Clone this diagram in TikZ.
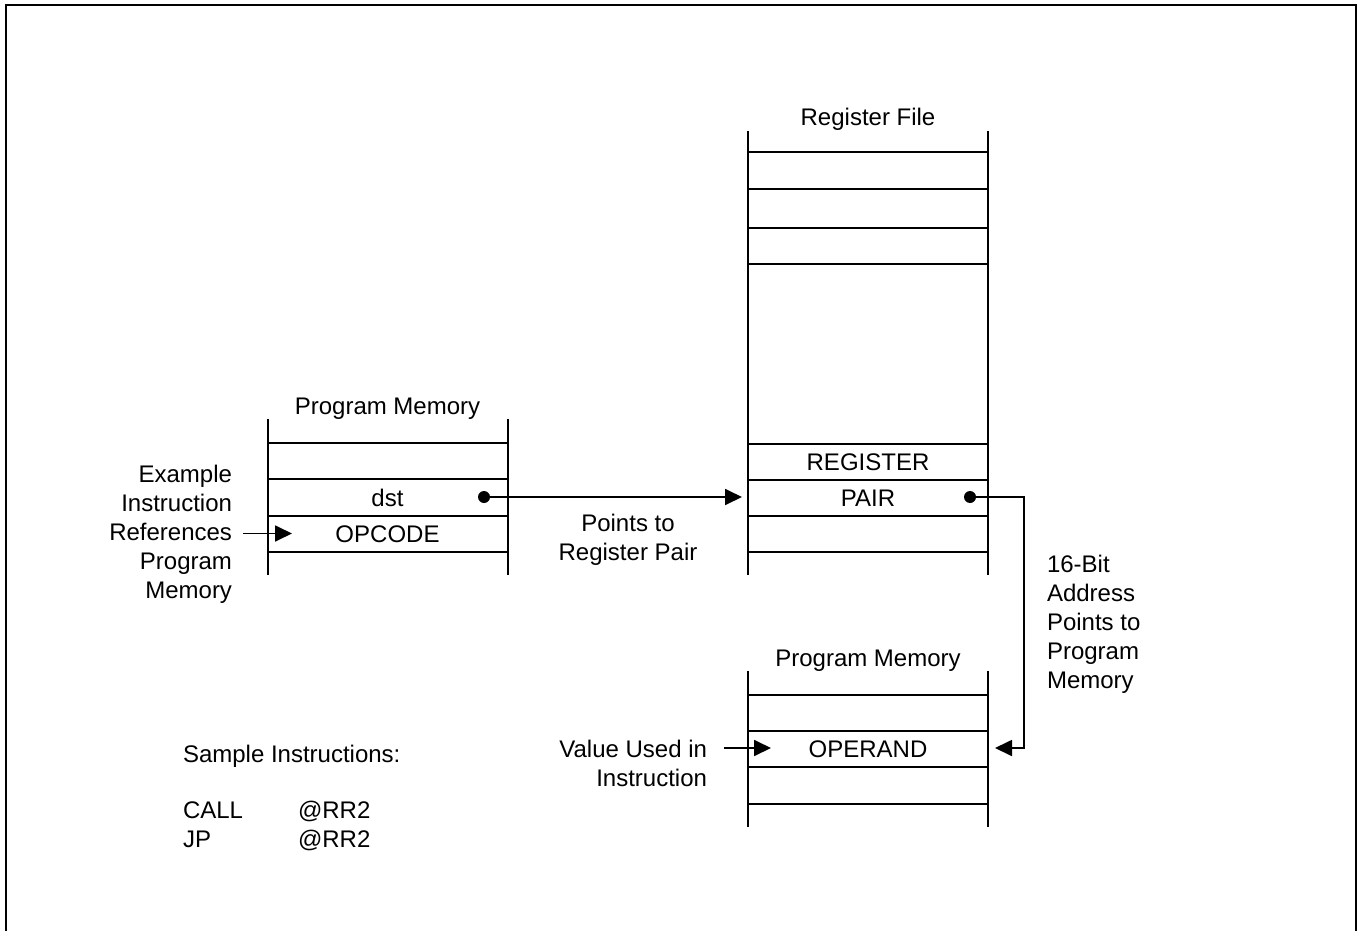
\documentclass[tikz,border=0pt]{standalone}
\usepackage{fontspec}
\setmainfont{Liberation Sans}
\usetikzlibrary{arrows.meta}
\begin{document}
\begin{tikzpicture}[x=1pt,y=-1pt,
  lbl/.style={font=\fontsize{24}{29}\selectfont, inner sep=0pt, outer sep=0pt},
  memline/.style={line width=2pt},
  conn/.style={line width=1.8pt},
  tipconn/.style={conn,-{Triangle[length=17pt,width=16pt]}},
  framel/.style={line width=2.8pt}]
\useasboundingbox (0,0) rectangle (1360,931);
% outer frame (open at bottom)
\draw[framel] (6,931) -- (6,5) -- (1356,5) -- (1356,931);

% left program memory
\draw[memline] (267.5,419) -- (267.5,575) (507.5,419) -- (507.5,575);
\foreach \yy in {443,479,516,551.5} \draw[memline] (267.5,\yy) -- (507.5,\yy);
\node[lbl,anchor=base] (pmtitle) at (387.5,414.5) {Program Memory};
\node[lbl,anchor=base] (dst) at (387.5,506.5) {dst};
\node[lbl,anchor=base] (opcode) at (387.5,542.5) {OPCODE};
\node[lbl,anchor=base east,align=right] (example) at (232,598)
  {Example\\Instruction\\References\\Program\\Memory};
\coordinate (exstart) at (243,533.5);
\coordinate (exend) at (292,533.5);
\draw[tipconn] (exstart) -- (exend);

% register file
\draw[memline] (748,131) -- (748,575) (987.5,131) -- (987.5,575);
\foreach \yy in {152,188.5,227.5,263.5,443.5,479.5,516,551.5} \draw[memline] (748,\yy) -- (987.5,\yy);
\node[lbl,anchor=base] (rftitle) at (868,125.5) {Register File};
\node[lbl,anchor=base] (register) at (868,470) {REGISTER};
\node[lbl,anchor=base] (pair) at (868,506.5) {PAIR};

% dst -> register pair
\coordinate (dstdot) at (484,497);
\coordinate (rfin) at (742,497);
\fill (dstdot) circle[radius=6pt];
\draw[tipconn] (dstdot) -- (rfin);
\node[lbl,anchor=base,align=center] (points) at (628,560) {Points to\\Register Pair};

% bottom program memory
\draw[memline] (748,670.5) -- (748,827) (987.5,670.5) -- (987.5,827);
\foreach \yy in {695,731,767,803.5} \draw[memline] (748,\yy) -- (987.5,\yy);
\node[lbl,anchor=base] (pm2title) at (868,666.5) {Program Memory};
\node[lbl,anchor=base] (operand) at (868,757.5) {OPERAND};
\node[lbl,anchor=base east,align=right] (value) at (707,786) {Value Used in\\Instruction};
\coordinate (vstart) at (724,748);
\coordinate (vend) at (771,748);
\draw[tipconn] (vstart) -- (vend);

% pair -> operand
\coordinate (pairdot) at (970,497);
\coordinate (corner1) at (1024,497);
\coordinate (corner2) at (1024,748);
\coordinate (opin) at (995,748);
\fill (pairdot) circle[radius=6pt];
\draw[tipconn] (pairdot) -- (corner1) -- (corner2) -- (opin);
\node[lbl,anchor=base west,align=left] (bitaddr) at (1047,688)
  {16-Bit\\Address\\Points to\\Program\\Memory};

% sample instructions
\node[lbl,anchor=base west] (sample) at (183,762) {Sample Instructions:};
\node[lbl,anchor=base west] (call) at (183,818) {CALL};
\node[lbl,anchor=base west] (callarg) at (298,818) {@RR2};
\node[lbl,anchor=base west] (jp) at (183,847) {JP};
\node[lbl,anchor=base west] (jparg) at (298,847) {@RR2};
\end{tikzpicture}
\end{document}
